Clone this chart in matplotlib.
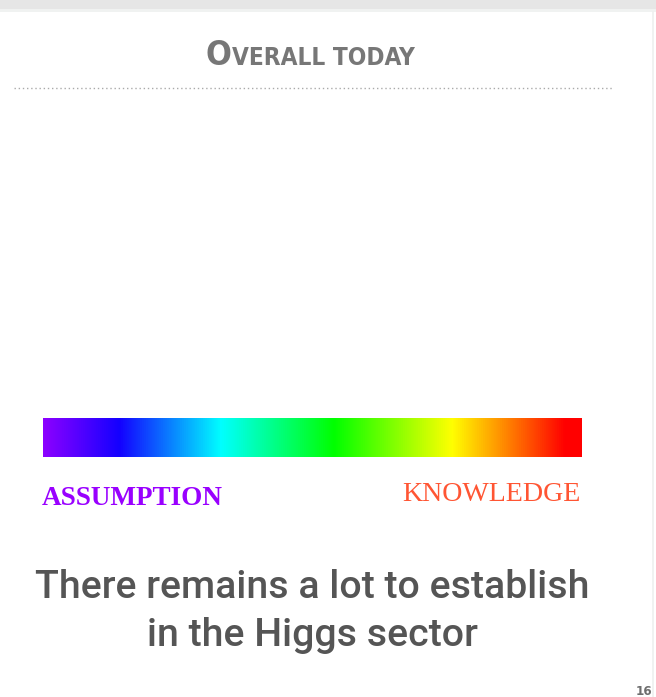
import matplotlib
matplotlib.use("Agg")
import matplotlib.pyplot as plt
import numpy as np
from matplotlib.colors import LinearSegmentedColormap

W, H = 656, 697

title_big = "O"
title_small = "VERALL TODAY"
left_label = "ASSUMPTION"
right_label = "KNOWLEDGE"
message = ["There remains a lot to establish", "in the Higgs sector"]
page_no = "16"

# rainbow stops
stop_pos = [0.0, 0.14, 0.33, 0.54, 0.76, 0.97, 1.0]
stop_col = ["#8c00ff", "#1400ff", "#00ffff", "#00ff00", "#ffff00", "#ff0000", "#ff0000"]

fig = plt.figure(figsize=(W / 100, H / 100), dpi=100)
ax = fig.add_axes([0, 0, 1, 1])
ax.set_xlim(0, W)
ax.set_ylim(H, 0)
ax.axis("off")

# top grey strip and right edge of the slide
ax.add_patch(plt.Rectangle((0, 0), W, 11, color="#e6e6e6", lw=0))
ax.add_patch(plt.Rectangle((0, 9), W, 3, color="#f0f2f1", lw=0))
ax.plot([653, 653], [12, H], color="#eef0ef", lw=1.2)

# title in small caps: big O, smaller rest, centred as one block
tkw = dict(color="#777777", family="DejaVu Sans", fontstretch="condensed",
           fontweight="bold", va="baseline", ha="left")
t1 = ax.text(0, 65, title_big, fontsize=24.5, **tkw)
t2 = ax.text(0, 65, title_small, fontsize=17.5, **tkw)
fig.canvas.draw()
r = fig.canvas.get_renderer()
w1 = t1.get_window_extent(r).width
w2 = t2.get_window_extent(r).width
x0 = 310 - (w1 + w2) / 2
t1.set_x(x0)
t2.set_x(x0 + w1 + 1)
ax.plot([14, 612], [87.5, 87.5], color="#aaaaaa", lw=1, ls=(0, (1, 2)))

# colour bar
cmap = LinearSegmentedColormap.from_list("rb", list(zip(stop_pos, stop_col)))
grad = np.linspace(0, 1, 512)[None, :]
ax.imshow(grad, cmap=cmap, aspect="auto", extent=(43, 582, 457, 418), interpolation="bilinear")

ax.text(42, 505, left_label, fontsize=19.5, color="#9900ff", family="Liberation Serif",
        fontweight="bold", va="baseline", ha="left")
ax.text(581, 501, right_label, fontsize=20.2, color="#ff5533", family="Liberation Serif",
        va="baseline", ha="right")

ax.text(312, 598, message[0], fontsize=28.3, color="#555555", family="Roboto",
        fontweight="medium", va="baseline", ha="center")
ax.text(312, 646, message[1], fontsize=28.3, color="#555555", family="Roboto",
        fontweight="medium", va="baseline", ha="center")

ax.text(652, 695, page_no, fontsize=9.5, color="#6e6e6e", family="DejaVu Sans",
        fontstretch="condensed", fontweight="bold", va="baseline", ha="right")

fig.savefig("out.png", dpi=100)
